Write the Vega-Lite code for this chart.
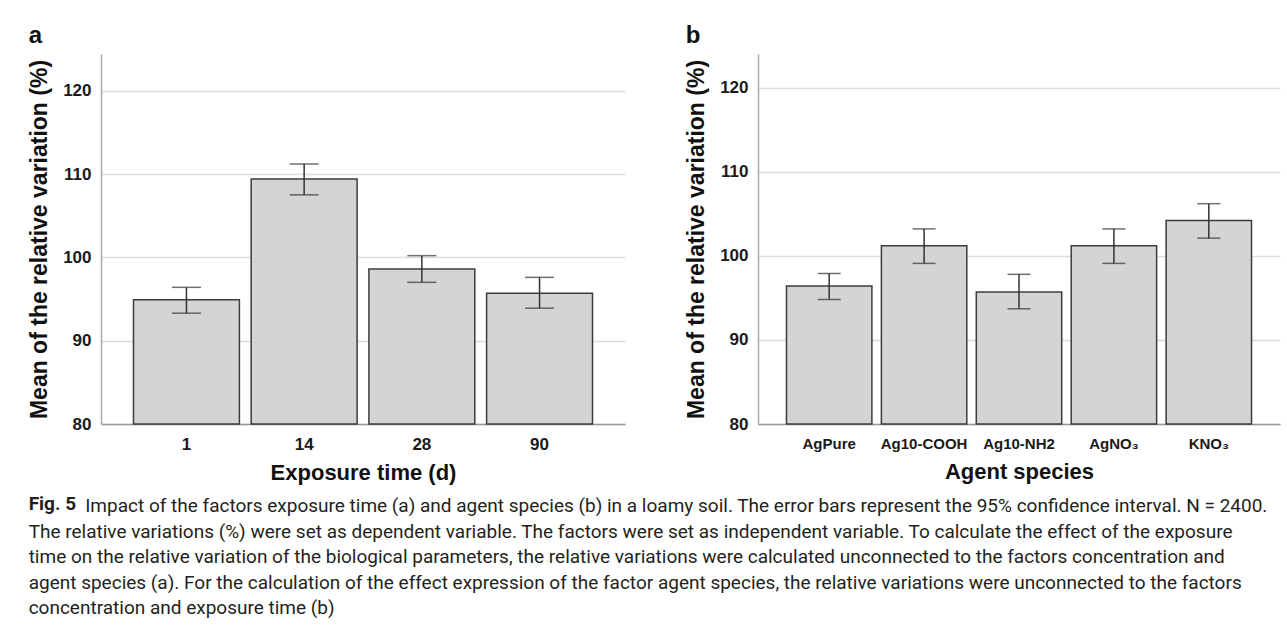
{
  "$schema": "https://vega.github.io/schema/vega-lite/v6.json",
  "background": "white",
  "padding": {"left": 28, "top": 24, "right": 6, "bottom": 4},
  "autosize": {"type": "pad"},
  "datasets": {
    "exposure": [
      {"day": "1", "mean": 94.9, "lower": 93.3, "upper": 96.4},
      {"day": "14", "mean": 109.4, "lower": 107.5, "upper": 111.2},
      {"day": "28", "mean": 98.6, "lower": 97.0, "upper": 100.2},
      {"day": "90", "mean": 95.7, "lower": 93.9, "upper": 97.6}
    ],
    "species": [
      {"agent": "AgPure", "mean": 96.4, "lower": 94.8, "upper": 97.9},
      {"agent": "Ag10-COOH", "mean": 101.2, "lower": 99.1, "upper": 103.2},
      {"agent": "Ag10-NH2", "mean": 95.7, "lower": 93.7, "upper": 97.8},
      {"agent": "AgNO₃", "mean": 101.2, "lower": 99.1, "upper": 103.2},
      {"agent": "KNO₃", "mean": 104.2, "lower": 102.1, "upper": 106.2}
    ]
  },
  "title": {
    "text": "Fig. 5",
    "subtitle": [
      "\u200b\u00a0\u00a0\u00a0\u00a0\u00a0\u00a0\u00a0\u00a0\u00a0\u00a0\u00a0\u00a0Impact of the factors exposure time (a) and agent species (b) in a loamy soil. The error bars represent the 95% confidence interval. N = 2400.",
      "The relative variations (%) were set as dependent variable. The factors were set as independent variable. To calculate the effect of the exposure",
      "time on the relative variation of the biological parameters, the relative variations were calculated unconnected to the factors concentration and",
      "agent species (a). For the calculation of the effect expression of the factor agent species, the relative variations were unconnected to the factors",
      "concentration and exposure time (b)"
    ],
    "orient": "bottom",
    "anchor": "start",
    "frame": "bounds",
    "font": "Roboto",
    "fontSize": 19,
    "fontWeight": "bold",
    "color": "#231f20",
    "subtitleFont": "Roboto",
    "subtitleFontSize": 19,
    "subtitleFontWeight": "normal",
    "subtitleColor": "#231f20",
    "subtitleLineHeight": 25.5,
    "subtitlePadding": -17,
    "offset": 12
  },
  "spacing": 60,
  "hconcat": [
    {
      "width": 524,
      "height": 370,
      "title": {"text": "a", "anchor": "start", "frame": "bounds", "fontSize": 24, "fontWeight": "bold", "font": "Liberation Sans", "color": "#111", "offset": 6},
      "data": {"name": "exposure"},
      "encoding": {
        "x": {
          "field": "day", "type": "ordinal", "sort": null,
          "scale": {"paddingInner": 0.1, "paddingOuter": 0.276},
          "axis": {"title": "Exposure time (d)"}
        }
      },
      "layer": [
        {
          "mark": {"type": "bar", "fill": "#d4d4d4", "stroke": "#3c3c3c", "strokeWidth": 1.5},
          "encoding": {
            "y": {"field": "mean", "type": "quantitative", "title": "Mean of the relative variation (%)",
                  "scale": {"domain": [80, 124.4], "nice": false, "zero": false},
                  "axis": {"values": [80, 90, 100, 110, 120]}},
            "y2": {"datum": 80}
          }
        },
        {
          "mark": {"type": "rule", "color": "#333333", "strokeWidth": 1.5},
          "encoding": {
            "y": {"field": "lower", "type": "quantitative", "title": "Mean of the relative variation (%)"},
            "y2": {"field": "upper"}
          }
        },
        {
          "mark": {"type": "tick", "color": "#333333", "thickness": 1.5, "size": 29},
          "encoding": {"y": {"field": "lower", "type": "quantitative", "title": "Mean of the relative variation (%)"}}
        },
        {
          "mark": {"type": "tick", "color": "#333333", "thickness": 1.5, "size": 29},
          "encoding": {"y": {"field": "upper", "type": "quantitative", "title": "Mean of the relative variation (%)"}}
        }
      ]
    },
    {
      "width": 522,
      "height": 370,
      "title": {"text": "b", "anchor": "start", "frame": "bounds", "fontSize": 24, "fontWeight": "bold", "font": "Liberation Sans", "color": "#111", "offset": 6},
      "data": {"name": "species"},
      "encoding": {
        "x": {
          "field": "agent", "type": "nominal", "sort": null,
          "scale": {"paddingInner": 0.1, "paddingOuter": 0.3},
          "axis": {"title": "Agent species", "labelFontSize": 15}
        }
      },
      "layer": [
        {
          "mark": {"type": "bar", "fill": "#d4d4d4", "stroke": "#3c3c3c", "strokeWidth": 1.5},
          "encoding": {
            "y": {"field": "mean", "type": "quantitative", "title": "Mean of the relative variation (%)",
                  "scale": {"domain": [80, 124.0], "nice": false, "zero": false},
                  "axis": {"values": [80, 90, 100, 110, 120]}},
            "y2": {"datum": 80}
          }
        },
        {
          "mark": {"type": "rule", "color": "#333333", "strokeWidth": 1.5},
          "encoding": {
            "y": {"field": "lower", "type": "quantitative", "title": "Mean of the relative variation (%)"},
            "y2": {"field": "upper"}
          }
        },
        {
          "mark": {"type": "tick", "color": "#333333", "thickness": 1.5, "size": 23},
          "encoding": {"y": {"field": "lower", "type": "quantitative", "title": "Mean of the relative variation (%)"}}
        },
        {
          "mark": {"type": "tick", "color": "#333333", "thickness": 1.5, "size": 23},
          "encoding": {"y": {"field": "upper", "type": "quantitative", "title": "Mean of the relative variation (%)"}}
        }
      ]
    }
  ],
  "config": {
    "font": "Liberation Sans",
    "view": {"stroke": null},
    "axis": {
      "ticks": false,
      "labelFont": "Liberation Sans",
      "labelFontSize": 17,
      "labelFontWeight": "bold",
      "labelColor": "#1a1a1a",
      "titleFont": "Liberation Sans",
      "titleFontWeight": "bold",
      "titleFontSize": 22,
      "titleColor": "#111111",
      "gridColor": "#dcdcdc",
      "gridWidth": 1.5,
      "domainColor": "#aaaaaa",
      "domainWidth": 1.5
    },
    "axisY": {"labelPadding": 10, "titlePadding": 11, "grid": true, "titleFontSize": 23},
    "axisX": {"grid": false, "labelAngle": 0, "labelPadding": 12, "titlePadding": 10, "domainColor": "#999999"}
  }
}
